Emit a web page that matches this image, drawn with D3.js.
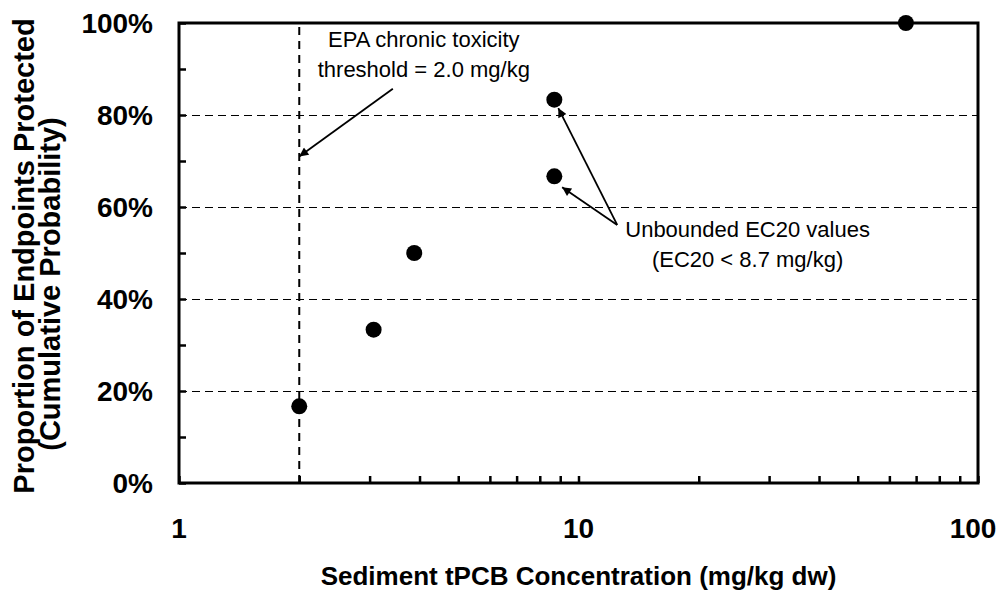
<!DOCTYPE html>
<html>
<head>
<meta charset="utf-8">
<script src="https://cdn.jsdelivr.net/npm/d3@7"></script>
<style>
  body { margin: 0; background: #fff; }
  text { font-family: "Liberation Sans", Arial, sans-serif; fill: #000; }
</style>
</head>
<body>
<svg id="chart" width="1003" height="592"></svg>
<script>
'use strict';

// data
const concentration = [2.0, 3.07, 3.88, 8.7, 8.7, 66];
const cumulative = [1 / 6, 2 / 6, 3 / 6, 4 / 6, 5 / 6, 1];
const yTicks = [0, 0.2, 0.4, 0.6, 0.8, 1.0];
const yMinor = [0.1, 0.3, 0.5, 0.7, 0.9];
const xTickLabels = [1, 10, 100];
const threshold = 2.0;

// annotation anchors (centre of first line's baseline) in data units
const notes = [
  { lines: ['EPA chronic toxicity', 'threshold = 2.0 mg/kg'], x: 4.1, y: 0.948 },
  { lines: ['Unbounded EC20 values', '(EC20 < 8.7 mg/kg)'], x: 26.5, y: 0.535 }
];
const arrows = [
  { from: [3.43, 0.857], to: [2.0, 0.71] },
  { from: [12.5, 0.561], to: [8.9, 0.815] },
  { from: [12.5, 0.561], to: [9.1, 0.643] }
];

const svg = d3.select('#chart');
const margin = { left: 179, right: 25, top: 23, bottom: 109 };
const width = +svg.attr('width');
const height = +svg.attr('height');

const x = d3.scaleLog().domain([1, 100]).range([margin.left, width - margin.right]);
const y = d3.scaleLinear().domain([0, 1]).range([height - margin.bottom, margin.top]);

svg.append('defs').append('marker')
    .attr('id', 'head')
    .attr('viewBox', '0 0 10 10')
    .attr('refX', 10).attr('refY', 5)
    .attr('markerWidth', 6).attr('markerHeight', 5)
    .attr('markerUnits', 'strokeWidth')
    .attr('orient', 'auto')
  .append('path')
    .attr('d', 'M0,0 L10,5 L0,10 z')
    .attr('fill', '#000');

// gridlines
svg.append('g')
  .selectAll('line')
  .data(yTicks.filter(d => d > 0 && d < 1))
  .join('line')
    .attr('x1', x.range()[0]).attr('x2', x.range()[1])
    .attr('y1', d => Math.round(y(d)) + 0.5).attr('y2', d => Math.round(y(d)) + 0.5)
    .attr('stroke', '#000')
    .attr('stroke-width', 1)
    .attr('stroke-dasharray', '8,5');

// threshold line
svg.append('line')
    .attr('x1', x(threshold)).attr('x2', x(threshold))
    .attr('y1', y(0)).attr('y2', y(1))
    .attr('stroke', '#000')
    .attr('stroke-width', 2)
    .attr('stroke-dasharray', '8,6');

// axes, ticks pointing inward
const xAxis = d3.axisBottom(x)
    .tickValues(d3.range(1, 10).concat(d3.range(10, 101, 10)))
    .tickSizeInner(-7).tickSizeOuter(0)
    .tickFormat('');
const yAxis = d3.axisLeft(y)
    .tickValues(yTicks.concat(yMinor))
    .tickSizeInner(-7).tickSizeOuter(0)
    .tickFormat('');

svg.append('g')
    .attr('transform', `translate(0,${y(0)})`)
    .call(xAxis)
    .call(g => g.selectAll('line').attr('stroke-width', 2.5));
svg.append('g')
    .attr('transform', `translate(${x(1)},0)`)
    .call(yAxis)
    .call(g => g.selectAll('line').attr('stroke-width', 2.5));

// frame
svg.append('rect')
    .attr('x', x(1)).attr('y', y(1))
    .attr('width', x(100) - x(1))
    .attr('height', y(0) - y(1))
    .attr('fill', 'none')
    .attr('stroke', '#000')
    .attr('stroke-width', 3);

// tick labels
svg.append('g')
  .selectAll('text')
  .data(yTicks)
  .join('text')
    .attr('x', x(1) - 26)
    .attr('y', d => y(d))
    .attr('dy', '0.36em')
    .attr('text-anchor', 'end')
    .attr('font-weight', 'bold')
    .attr('font-size', 28)
    .text(d => d3.format('.0%')(d));

svg.append('g')
  .selectAll('text')
  .data(xTickLabels)
  .join('text')
    .attr('x', d => x(d) - (d === 100 ? 5 : 0))
    .attr('y', y(0) + 45)
    .attr('dy', '0.36em')
    .attr('text-anchor', 'middle')
    .attr('font-weight', 'bold')
    .attr('font-size', 28)
    .text(d => d);

// axis titles
svg.append('text')
    .attr('x', (x.range()[0] + x.range()[1]) / 2)
    .attr('y', 585)
    .attr('text-anchor', 'middle')
    .attr('font-weight', 'bold')
    .attr('font-size', 26)
    .text('Sediment tPCB Concentration (mg/kg dw)');

svg.append('text')
    .attr('transform', 'translate(34,256) rotate(-90)')
    .attr('text-anchor', 'middle')
    .attr('font-weight', 'bold')
    .attr('font-size', 29)
    .text('Proportion of Endpoints Protected');
svg.append('text')
    .attr('transform', 'translate(60,284) rotate(-90)')
    .attr('text-anchor', 'middle')
    .attr('font-weight', 'bold')
    .attr('font-size', 29)
    .text('(Cumulative Probability)');

// points
svg.append('g')
  .selectAll('circle')
  .data(concentration.map((c, i) => [c, cumulative[i]]))
  .join('circle')
    .attr('cx', d => x(d[0]))
    .attr('cy', d => y(d[1]))
    .attr('r', 8)
    .attr('fill', '#000');

// annotations
svg.append('g')
  .selectAll('line')
  .data(arrows)
  .join('line')
    .attr('x1', d => x(d.from[0])).attr('y1', d => y(d.from[1]))
    .attr('x2', d => x(d.to[0])).attr('y2', d => y(d.to[1]))
    .attr('stroke', '#000')
    .attr('stroke-width', 1.8)
    .attr('marker-end', 'url(#head)');

notes.forEach(n => {
  svg.append('text')
      .attr('x', x(n.x))
      .attr('y', y(n.y))
      .attr('text-anchor', 'middle')
      .attr('font-size', 22)
    .selectAll('tspan')
    .data(n.lines)
    .join('tspan')
      .attr('x', x(n.x))
      .attr('dy', (d, i) => i ? 30 : 0)
      .text(d => d);
});
</script>
</body>
</html>
